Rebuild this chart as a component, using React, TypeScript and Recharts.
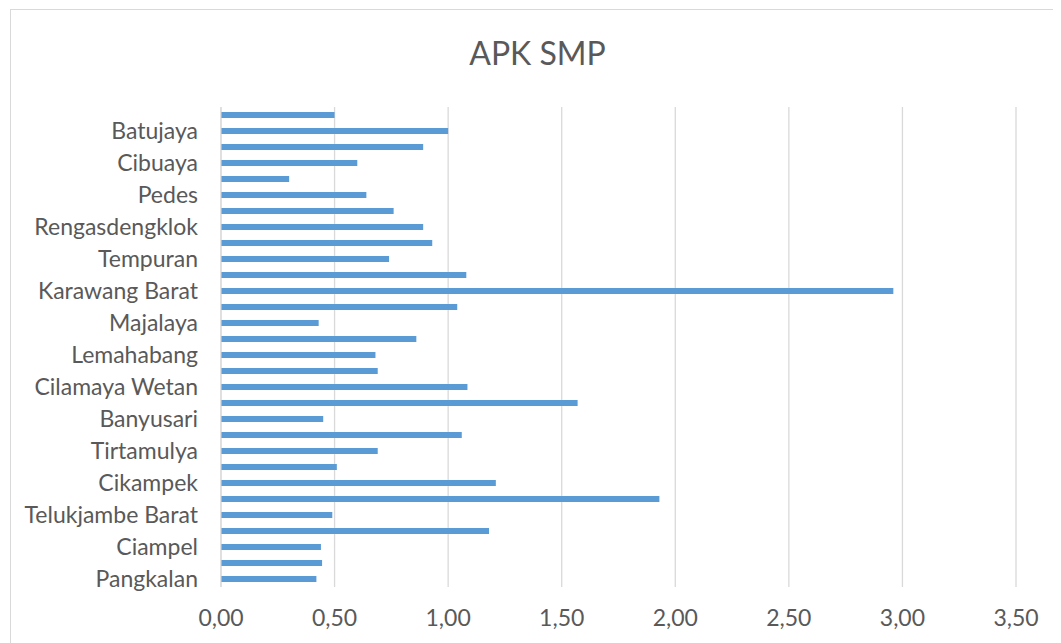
import React from 'react';
import { BarChart, Bar, XAxis, YAxis, CartesianGrid } from 'recharts';

// kecamatan, bottom to top as in the original chart
const kecamatan = [
  'Pangkalan', 'Tegalwaru', 'Ciampel', 'Telukjambe Timur', 'Telukjambe Barat',
  'Klari', 'Cikampek', 'Purwasari', 'Tirtamulya', 'Jatisari',
  'Banyusari', 'Kotabaru', 'Cilamaya Wetan', 'Cilamaya Kulon', 'Lemahabang',
  'Telagasari', 'Majalaya', 'Karawang Timur', 'Karawang Barat', 'Rawamerta',
  'Tempuran', 'Kutawaluya', 'Rengasdengklok', 'Jayakerta', 'Pedes',
  'Cilebar', 'Cibuaya', 'Tirtajaya', 'Batujaya', 'Pakisjaya',
];

const apkSmp = [
  0.42, 0.445, 0.44, 1.18, 0.49,
  1.93, 1.21, 0.51, 0.69, 1.06,
  0.45, 1.57, 1.085, 0.69, 0.68,
  0.86, 0.43, 1.04, 2.96, 1.08,
  0.74, 0.93, 0.89, 0.76, 0.64,
  0.30, 0.60, 0.89, 1.00, 0.50,
];

const xTicks = [0, 0.5, 1, 1.5, 2, 2.5, 3, 3.5];

const data = kecamatan.map((name, i) => ({ name, apk: apkSmp[i] }));

const fmt = (v: number) => v.toFixed(2).replace('.', ',');

const font = 'Lato, "Open Sans", sans-serif';
const textColor = '#595959';

export default function App() {
  return (
    <div style={{ position: 'relative', width: 1053, height: 635, overflow: 'hidden', fontFamily: font }}>
      <div
        style={{
          position: 'absolute',
          left: 2,
          top: 1,
          width: 1100,
          height: 700,
          border: '1px solid #d9d9d9',
          background: '#fff',
        }}
      />
      <div
        style={{
          position: 'absolute',
          left: 0,
          top: 29,
          width: 1059,
          textAlign: 'center',
          fontSize: 32,
          lineHeight: '32px',
          color: textColor,
        }}
      >
        APK SMP
      </div>
      <div style={{ position: 'absolute', left: 0, top: 0 }}>
        <BarChart
          width={1053}
          height={635}
          data={data}
          layout="vertical"
          margin={{ top: 99, right: 45, bottom: 26, left: 0 }}
        >
          <CartesianGrid horizontal={false} stroke="#d9d9d9" strokeWidth={1.3} />
          <XAxis
            type="number"
            domain={[0, 3.5]}
            ticks={xTicks}
            tickFormatter={fmt}
            axisLine={false}
            tickLine={false}
            tickSize={0}
            tickMargin={23}
            height={30}
            tick={{ fill: textColor, fontSize: 23, fontFamily: font }}
          />
          <YAxis
            type="category"
            dataKey="name"
            reversed
            interval={1}
            width={213}
            axisLine={{ stroke: '#d9d9d9' }}
            tickLine={false}
            tickSize={0}
            tickMargin={23}
            tick={{ fill: textColor, fontSize: 23, fontFamily: font }}
          />
          <Bar dataKey="apk" fill="#5b9bd5" barSize={6} isAnimationActive={false} />
        </BarChart>
      </div>
    </div>
  );
}
